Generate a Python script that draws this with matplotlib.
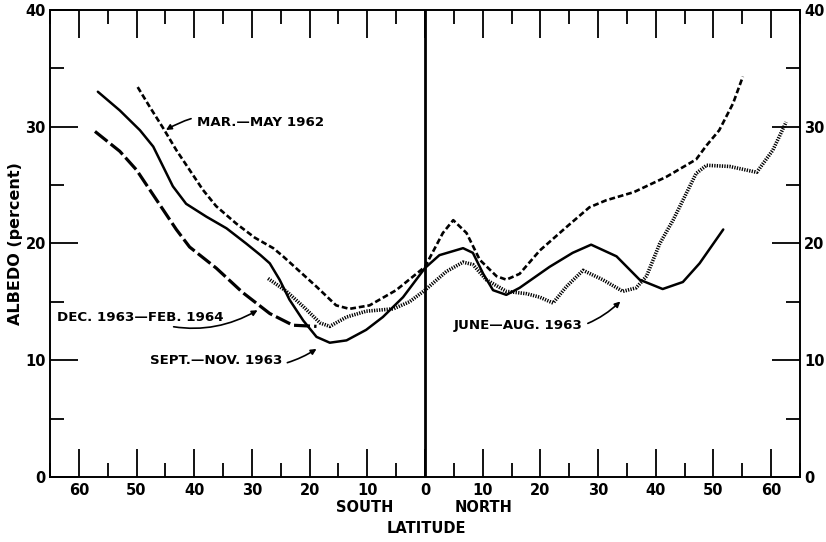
import matplotlib.pyplot as plt
from matplotlib.ticker import FuncFormatter, MultipleLocator

plt.rcParams["font.family"] = ["DejaVu Sans"]

# latitude: south negative, north positive; albedo in percent
sept_nov_lat = [-56.7, -52.9, -49.4, -47.1, -45.4, -43.7, -41.4, -37.9, -34.4, -31.0, -28.5, -26.9,
                -25.2, -23.5, -21.1, -18.8, -16.5, -13.6, -10.2, -7.3, -3.8, 0, 2.5, 6.6, 8.3, 10.1,
                11.8, 14.1, 16.4, 21.6, 25.6, 28.8, 33.2, 37.2, 41.2, 44.7, 47.6, 51.7]
sept_nov_val = [33.0, 31.4, 29.7, 28.3, 26.6, 24.9, 23.4, 22.3, 21.3, 20.0, 19.0, 18.3,
                16.9, 15.2, 13.4, 12.0, 11.5, 11.7, 12.6, 13.7, 15.4, 17.9, 19.0, 19.6, 19.2, 17.4,
                16.0, 15.6, 16.2, 18.0, 19.2, 19.9, 18.9, 16.9, 16.1, 16.7, 18.3, 21.2]

mar_may_lat = [-49.8, -47.7, -45.4, -43.1, -40.8, -38.5, -36.2, -32.7, -29.5, -26.3, -24.6, -18.8,
               -15.4, -13.1, -9.6, -5.0, 0, 3.1, 4.9, 7.2, 9.5, 12.4, 14.1, 16.4, 19.9, 24.5, 28.5,
               31.4, 36.2, 41.8, 47.0, 48.8, 51.0, 53.4, 55.1]
mar_may_val = [33.4, 31.7, 29.9, 28.0, 26.3, 24.6, 23.2, 21.7, 20.5, 19.6, 18.9, 16.3,
               14.7, 14.4, 14.7, 16.0, 18.0, 20.9, 22.0, 20.9, 18.6, 17.2, 16.9, 17.4, 19.4, 21.4, 23.1,
               23.7, 24.4, 25.7, 27.2, 28.4, 29.7, 32.0, 34.3]

dec_feb_lat = [-57.2, -52.9, -50.0, -47.7, -45.4, -43.1, -40.8, -36.2, -31.6, -26.9, -22.9, -18.8]
dec_feb_val = [29.6, 27.9, 26.3, 24.6, 22.9, 21.2, 19.7, 17.9, 15.8, 14.0, 13.0, 12.9]

june_aug_lat = [-27.2, -24.0, -21.1, -18.2, -16.5, -13.6, -10.2, -5.5, -2.7, 0, 3.7, 6.6, 8.3, 10.6,
                14.1, 17.6, 19.9, 22.2, 24.5, 27.4, 30.8, 34.3, 36.6, 38.4, 40.7, 43.0, 44.5, 47.0,
                48.8, 52.8, 57.5, 60.3, 62.6]
june_aug_val = [17.0, 15.9, 14.6, 13.2, 12.9, 13.7, 14.2, 14.4, 15.0, 16.0, 17.6, 18.4, 18.2, 16.9,
                15.9, 15.7, 15.4, 14.9, 16.3, 17.7, 16.9, 15.9, 16.2, 17.2, 20.0, 22.0, 23.5, 26.0,
                26.7, 26.6, 26.1, 28.0, 30.4]

fig = plt.figure(figsize=(8.26, 5.42), dpi=100)
ax = fig.add_axes([0.0605, 0.12, 0.908, 0.8615])

ink = "black"
fs = 10.5
afs = 9.6
ax.plot(sept_nov_lat, sept_nov_val, color=ink, lw=1.8, solid_capstyle="round", solid_joinstyle="round")
ax.plot(mar_may_lat, mar_may_val, color=ink, lw=1.9, linestyle=(0, (2.2, 1.1)), dash_capstyle="butt")
ax.plot(dec_feb_lat, dec_feb_val, color=ink, lw=2.3, linestyle=(0, (5.0, 1.3)), dash_capstyle="butt")
ax.plot(june_aug_lat, june_aug_val, color=ink, lw=2.6, linestyle=(0, (0.35, 0.35)), dash_capstyle="butt")

ax.axvline(0, color=ink, lw=2.0)

ax.set_xlim(-65, 65)
ax.set_ylim(0, 40)
ax.xaxis.set_major_locator(MultipleLocator(10))
ax.xaxis.set_minor_locator(MultipleLocator(5))
ax.yaxis.set_major_locator(MultipleLocator(10))
ax.yaxis.set_minor_locator(MultipleLocator(5))
ax.xaxis.set_major_formatter(FuncFormatter(lambda v, p: f"{abs(int(round(v)))}"))

ax.tick_params(which="both", direction="in", top=True, right=True, labelright=True,
               width=1.3, colors=ink, labelsize=fs)
ax.tick_params(which="major", length=20, pad=4)
ax.tick_params(which="minor", length=10)
ax.tick_params(axis="y", which="major", pad=3)
for lab in ax.get_xticklabels() + ax.get_yticklabels():
    lab.set_fontweight("bold")
for s in ax.spines.values():
    s.set_linewidth(1.4)

ax.set_ylabel("ALBEDO (percent)", fontsize=11.5, fontweight="bold", labelpad=2)

ax.text(-10.5, -2.6, "SOUTH", ha="center", va="center", fontsize=fs, fontweight="bold")
ax.text(10.2, -2.6, "NORTH", ha="center", va="center", fontsize=fs, fontweight="bold")
ax.text(0.3, -4.4, "LATITUDE", ha="center", va="center", fontsize=fs, fontweight="bold")

arrow = dict(arrowstyle="-|>", color=ink, lw=1.2, mutation_scale=8)
ax.annotate("MAR.—MAY 1962", xy=(-45.3, 29.6), xytext=(-39.6, 30.4), ha="left", va="center",
            fontsize=afs, fontweight="bold", arrowprops=dict(connectionstyle="arc3,rad=0.25", **arrow))
ax.annotate("DEC. 1963—FEB. 1964", xy=(-28.6, 14.4), xytext=(-35.0, 13.7), ha="right", va="center",
            fontsize=afs, fontweight="bold", arrowprops=dict(connectionstyle="arc3,rad=0.25", **arrow))
ax.annotate("SEPT.—NOV. 1963", xy=(-18.4, 11.1), xytext=(-24.8, 10.0), ha="right", va="center",
            fontsize=afs, fontweight="bold", arrowprops=dict(connectionstyle="arc3,rad=0.25", **arrow))
ax.annotate("JUNE—AUG. 1963", xy=(34.2, 15.2), xytext=(27.3, 13.0), ha="right", va="center",
            fontsize=afs, fontweight="bold", arrowprops=dict(connectionstyle="arc3,rad=0.3", **arrow))

fig.savefig("out.png", dpi=100, facecolor="white")
